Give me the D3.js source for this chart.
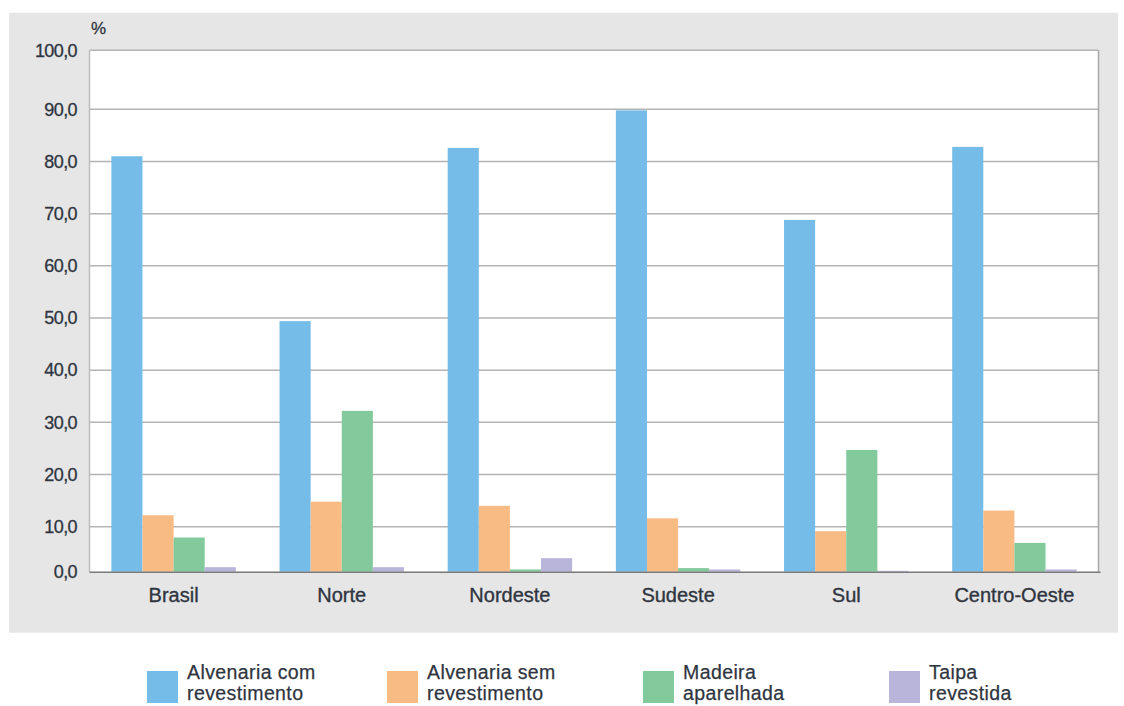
<!DOCTYPE html>
<html><head><meta charset="utf-8">
<script src="https://cdn.jsdelivr.net/npm/d3@7"></script>
<style>
html,body{margin:0;padding:0;background:#fff;}
svg{display:block;}
text{font-family:"Liberation Sans",Arial,sans-serif;fill:#2f3540;}
</style></head>
<body>
<svg id="chart" width="1124" height="706"></svg>
<script>
const categories = ["Brasil","Norte","Nordeste","Sudeste","Sul","Centro-Oeste"];
const seriesNames = ["Alvenaria com revestimento","Alvenaria sem revestimento","Madeira aparelhada","Taipa revestida"];
const legendLines = [["Alvenaria com","revestimento"],["Alvenaria sem","revestimento"],["Madeira","aparelhada"],["Taipa","revestida"]];
const alvenariaCom = [81.0, 49.4, 82.6, 89.8, 68.8, 82.8];
const alvenariaSem = [12.2, 14.8, 14.0, 11.6, 9.0, 13.1];
const madeira      = [7.6, 32.2, 0.5, 0.8, 24.7, 6.4];
const taipa        = [1.0, 1.0, 3.0, 0.5, 0.2, 0.5];
const yTicks = [0,10,20,30,40,50,60,70,80,90,100];
const colors = ["#75bde8","#f9bb84","#82c99b","#b9b4da"];

const series = [alvenariaCom, alvenariaSem, madeira, taipa];
const svg = d3.select("#chart");

// grey panel
svg.append("rect").attr("x",9).attr("y",12.7).attr("width",1109).attr("height",620).attr("fill","#e6e6e6");

const left = 89.5, right = 1098.5;
// the original axis is not uniform at its ends: piecewise linear scale
const y = d3.scaleLinear().domain([0,10,90,100]).range([571.7,526.7,109.3,50.3]);
const x0 = d3.scaleBand().domain(categories).range([left,right]).paddingInner(0.26).paddingOuter(0.13);
const x1 = d3.scaleBand().domain(d3.range(series.length)).range([0,x0.bandwidth()]).padding(0);

// plot area
svg.append("rect").attr("x",left).attr("y",y(100)).attr("width",right-left).attr("height",y(0)-y(100)).attr("fill","#fff");

// gridlines
svg.append("g").selectAll("line").data(yTicks.filter(d=>d>0)).join("line")
  .attr("x1",left).attr("x2",right).attr("y1",d=>y(d)).attr("y2",d=>y(d))
  .attr("stroke","#b4b4b4").attr("stroke-width",1.5);
// left & right border
svg.append("line").attr("x1",left).attr("x2",left).attr("y1",y(100)).attr("y2",y(0)).attr("stroke","#bdbdbd").attr("stroke-width",1.5);
svg.append("line").attr("x1",right).attr("x2",right).attr("y1",y(100)).attr("y2",y(0)).attr("stroke","#a8a8a8").attr("stroke-width",1.5);

// bars
const groups = svg.append("g").selectAll("g").data(categories).join("g")
  .attr("transform",d=>`translate(${x0(d)},0)`);
groups.selectAll("rect").data((d,i)=>series.map((s,k)=>({k,v:s[i]}))).join("rect")
  .attr("x",d=>x1(d.k)).attr("width",x1.bandwidth())
  .attr("y",d=>y(d.v)).attr("height",d=>y(0)-y(d.v))
  .attr("fill",d=>colors[d.k]);

// baseline
svg.append("line").attr("x1",left).attr("x2",right+2).attr("y1",y(0)+0.5).attr("y2",y(0)+0.5).attr("stroke","#7a7a7a").attr("stroke-width",1.5);

// y axis labels
const yAxis = d3.axisLeft(y).tickValues(yTicks).tickSize(0).tickPadding(0)
  .tickFormat(d=>d3.format(".1f")(d).replace(".",","));
const gy = svg.append("g").attr("transform","translate(77,0)").call(yAxis);
gy.select(".domain").remove();
gy.selectAll("text").attr("font-size",18).attr("fill","#2f3540").attr("stroke","#2f3540").attr("stroke-width",0.3)
  .style("font-family","Liberation Sans, Arial, sans-serif").attr("letter-spacing","-0.6");

svg.append("text").attr("x",91).attr("y",34).attr("font-size",17).attr("stroke","#2f3540").attr("stroke-width",0.3).text("%");

// x axis labels
const xAxis = d3.axisBottom(x0).tickSize(0).tickPadding(0);
const gx = svg.append("g").attr("transform",`translate(0,588)`).call(xAxis);
gx.select(".domain").remove();
gx.selectAll("text").attr("font-size",20).attr("fill","#2f3540").attr("stroke","#2f3540").attr("stroke-width",0.35)
  .style("font-family","Liberation Sans, Arial, sans-serif");

// legend
const legendX = [147,387,643,889];
const lg = svg.append("g").selectAll("g").data(seriesNames).join("g")
  .attr("transform",(d,i)=>`translate(${legendX[i]},671)`);
lg.append("rect").attr("width",31).attr("height",32).attr("fill",(d,i)=>colors[i]);
lg.each(function(d,i){
  const t = d3.select(this).append("text").attr("x",40).attr("y",9).attr("font-size",19.5)
    .attr("letter-spacing","0.4").attr("stroke","#2f3540").attr("stroke-width",0.25);
  legendLines[i].forEach((ln,j)=>t.append("tspan").attr("x",40).attr("y",8+j*21).text(ln));
});
</script>
</body></html>
